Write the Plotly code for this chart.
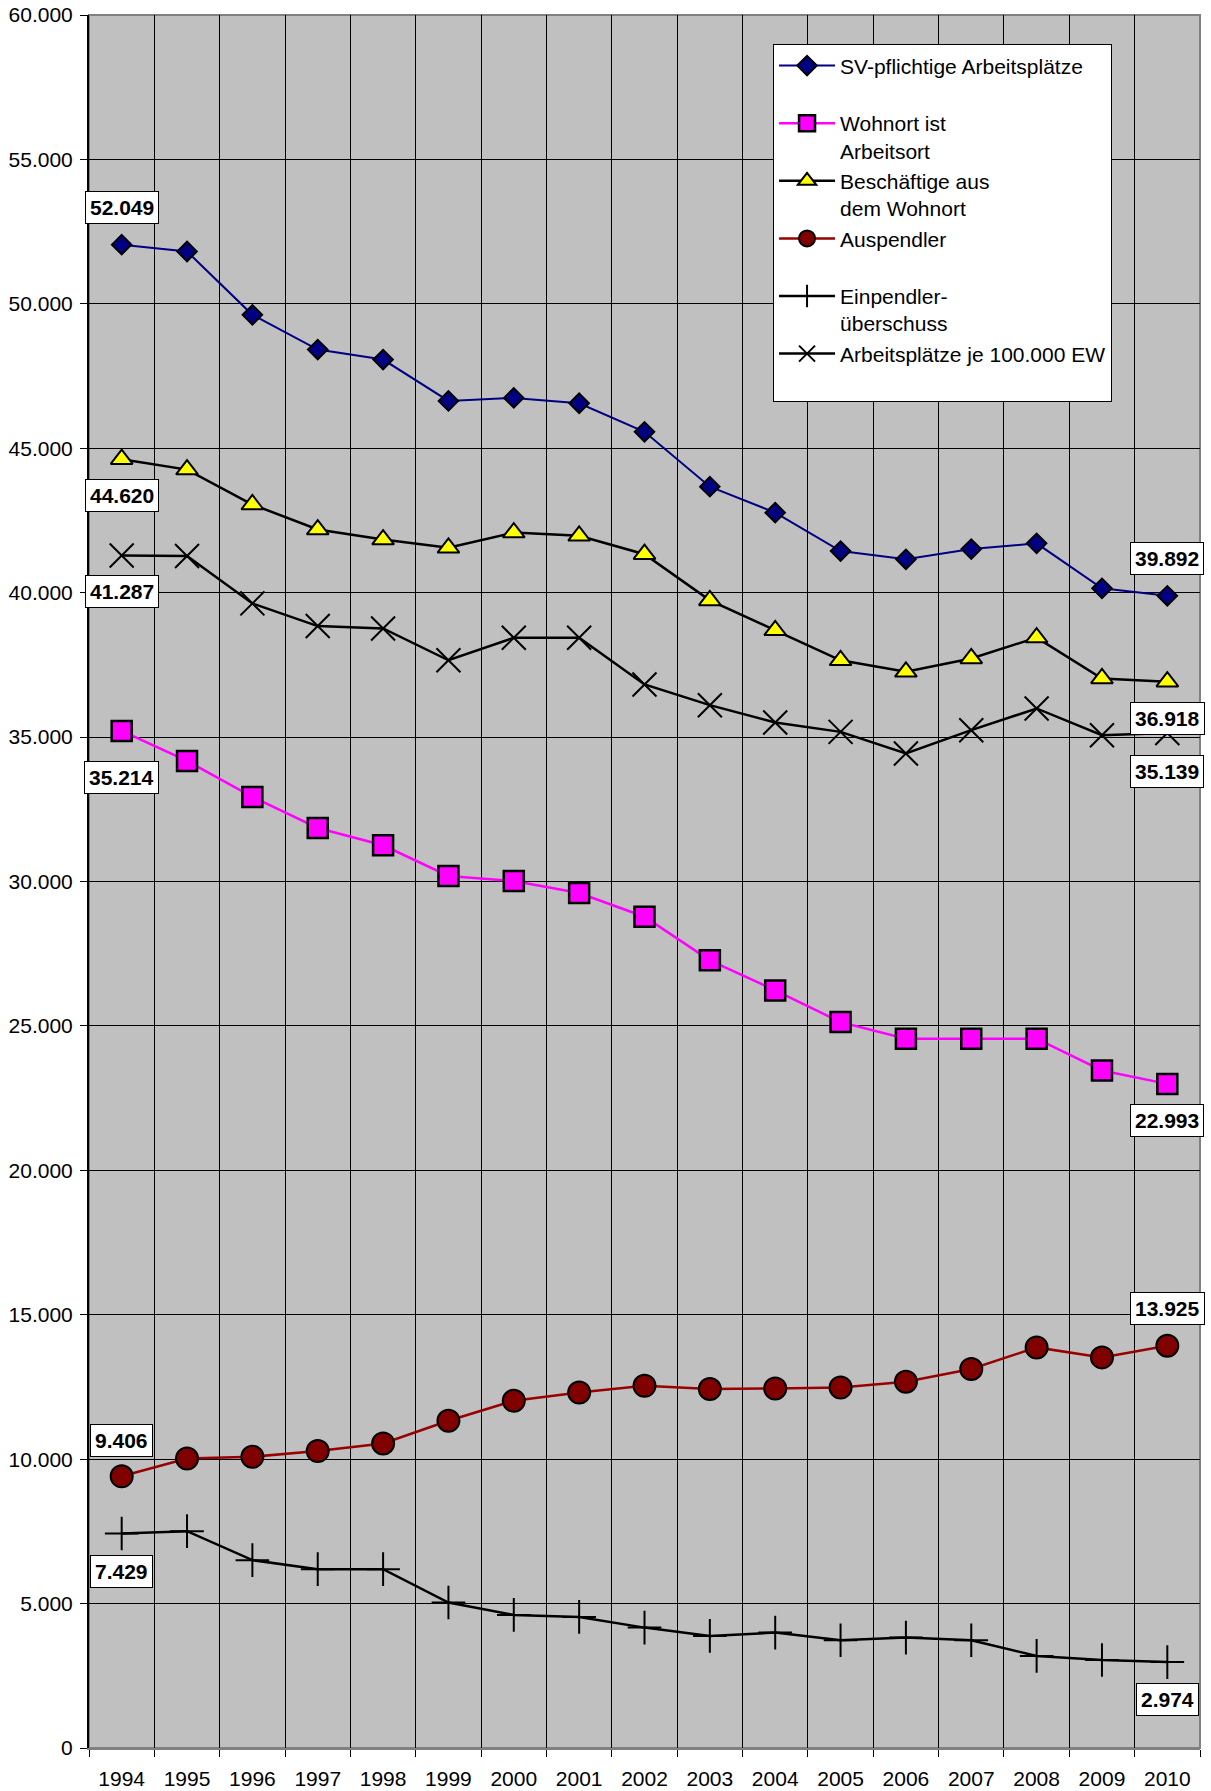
import plotly.graph_objects as go

years = [str(y) for y in range(1994, 2011)]

sv_pflichtig = [52049, 51813, 49619, 48417, 48071, 46639, 46743, 46559, 45570,
                43670, 42770, 41441, 41153, 41510, 41707, 40149, 39892]
wohnort_arbeitsort = [35214, 34176, 32928, 31854, 31254, 30191, 30018, 29602, 28780,
                      27270, 26230, 25132, 24556, 24556, 24556, 23458, 22993]
beschaeftigte = [44620, 44260, 43052, 42186, 41840, 41552, 42082, 41967, 41331,
                 39733, 38698, 37658, 37260, 37722, 38444, 37030, 36918]
auspendler = [9406, 10024, 10083, 10280, 10545, 11331, 12024, 12312, 12538,
              12429, 12450, 12484, 12682, 13122, 13870, 13524, 13925]
einpendler = [7429, 7508, 6504, 6192, 6192, 5035, 4608, 4539, 4168,
              3881, 3996, 3732, 3822, 3732, 3188, 3049, 2974]
je_100000 = [41287, 41268, 39628, 38843, 38762, 37660, 38438, 38438, 36822,
             36105, 35505, 35180, 34431, 35239, 35991, 35066, 35139]

names = [
    "SV-pflichtige Arbeitsplätze<br> ",
    "Wohnort ist<br>Arbeitsort",
    "Beschäftige aus<br>dem Wohnort",
    "Auspendler<br> ",
    "Einpendler-<br>überschuss",
    "Arbeitsplätze je 100.000 EW<br> ",
]

FONT = "Liberation Sans, Arial, sans-serif"

fig = go.Figure()

series = [
    (sv_pflichtig, names[0], dict(color="#000080", width=2),
     dict(symbol="diamond", size=15, color="#000080", line=dict(color="black", width=2))),
    (wohnort_arbeitsort, names[1], dict(color="#FF00FF", width=2.5),
     dict(symbol="square", size=20, color="#FF00FF", line=dict(color="black", width=2.5))),
    (beschaeftigte, names[2], dict(color="black", width=2.5),
     dict(symbol="triangle-up", size=19, color="#FFFF00", line=dict(color="black", width=2))),
    (auspendler, names[3], dict(color="#990000", width=2.5),
     dict(symbol="circle", size=22, color="#800000", line=dict(color="black", width=2))),
    (einpendler, names[4], dict(color="black", width=2.5),
     dict(symbol="cross-thin", size=24, color="black", line=dict(color="black", width=2))),
    (je_100000, names[5], dict(color="black", width=2.5),
     dict(symbol="x-thin", size=24, color="black", line=dict(color="black", width=2))),
]

for vals, nm, ln, mk in series:
    fig.add_trace(go.Scatter(x=years, y=vals, name=nm, mode="lines+markers",
                             line=ln, marker=mk, cliponaxis=False))


def fmt(v):
    return f"{v:,}".replace(",", ".")


# data labels: (series, index, yshift)
labels = [
    (sv_pflichtig, 0, 37), (sv_pflichtig, 16, 37),
    (beschaeftigte, 0, -36), (beschaeftigte, 16, -37),
    (je_100000, 0, -36), (je_100000, 16, -38),
    (wohnort_arbeitsort, 0, -47), (wohnort_arbeitsort, 16, -37),
    (auspendler, 0, 36), (auspendler, 16, 37),
    (einpendler, 0, -38), (einpendler, 16, -37),
]
for vals, i, ys in labels:
    fig.add_annotation(x=i, y=vals[i], xref="x", yref="y",
                       text="<b>" + fmt(vals[i]) + "</b>",
                       showarrow=False, yshift=ys, bgcolor="white",
                       bordercolor="black", borderwidth=1, borderpad=4,
                       font=dict(family=FONT, size=21, color="black"))

fig.add_shape(type="rect", xref="paper", yref="paper", x0=0, x1=1, y0=0, y1=1,
              line=dict(color="#808080", width=2), layer="between")

fig.update_layout(
    template="none",
    width=1211, height=1791,
    margin=dict(l=89, r=11, t=15, b=43),
    paper_bgcolor="white", plot_bgcolor="#C0C0C0",
    separators=",.",
    font=dict(family=FONT, size=21, color="black"),
    showlegend=True,
    legend=dict(x=0.6157, y=0.983, xanchor="left", yanchor="top",
                bgcolor="white", bordercolor="black", borderwidth=1,
                font=dict(family=FONT, size=21, color="black"),
                valign="top", tracegroupgap=0, itemwidth=56,
                entrywidth=292),
    xaxis=dict(type="category", tickson="boundaries", ticks="outside", ticklen=7,
               tickcolor="black", showgrid=True, gridcolor="black", gridwidth=1,
               showline=True, linecolor="#808080", linewidth=2, automargin=False,
               tickfont=dict(family=FONT, size=21, color="black"),
               range=[-0.5, 16.5], ticklabelstandoff=11),
    yaxis=dict(range=[0, 60000], dtick=5000, tickformat=",d", ticks="outside",
               ticklen=7, tickcolor="black", showgrid=True, gridcolor="black",
               gridwidth=1, zeroline=False, showline=True, linecolor="black",
               linewidth=2, automargin=False,
               tickfont=dict(family=FONT, size=21, color="black"),
               ticklabelstandoff=3),
)

fig.write_html("out.html", config={"displayModeBar": False},
               post_script="document.body.style.margin='0';document.body.style.padding='0';")
